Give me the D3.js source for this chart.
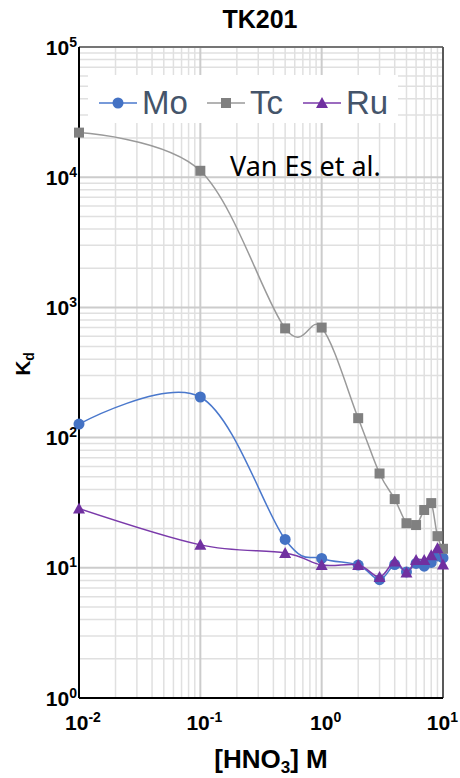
<!DOCTYPE html>
<html>
<head>
<meta charset="utf-8">
<script src="https://cdn.jsdelivr.net/npm/d3@7"></script>
<style>
  body { margin: 0; background: #fff; }
  svg { display: block; font-family: "Liberation Sans", Arial, sans-serif; }
</style>
</head>
<body>
<div id="chart"></div>
<script>
// HNO3 concentration (M)
const xVals = [0.01, 0.1, 0.5, 1, 2, 3, 4, 5, 6, 7, 8, 9, 10];
const moVals = [127, 205, 16.5, 11.8, 10.5, 8.1, 10.6, 9.3, 10.8, 10.3, 11.0, 12.3, 11.9];
const tcVals = [22000, 11200, 690, 700, 141, 53, 33.7, 22, 21.3, 27.8, 31.4, 17.5, 14];
const ruVals = [28.5, 15, 13, 10.5, 10.5, 8.5, 11.2, 9.2, 11.5, 11.5, 12.5, 14.1, 10.6];
const seriesNames = ["Mo", "Tc", "Ru"];
const xTickExp = [-2, -1, 0, 1];
const yTickExp = [0, 1, 2, 3, 4, 5];

const W = 460, H = 778;
const plotL = 79, plotR = 443, plotT = 47, plotB = 698;

const svg = d3.select("#chart")
  .append("svg")
  .attr("width", W)
  .attr("height", H);

const x = d3.scaleLog().domain([0.01, 10]).range([plotL, plotR]);
const y = d3.scaleLog().domain([1, 1e5]).range([plotB, plotT]);

// grid
const xMinor = [], yMinor = [];
for (let e = -2; e < 1; e++) for (let m = 2; m < 10; m++) xMinor.push(m * Math.pow(10, e));
for (let e = 0; e < 5; e++) for (let m = 2; m < 10; m++) yMinor.push(m * Math.pow(10, e));

const grid = svg.append("g");
grid.selectAll(".vx").data(xMinor).enter().append("line")
  .attr("x1", d => x(d)).attr("x2", d => x(d))
  .attr("y1", plotT).attr("y2", plotB)
  .attr("stroke", "#e0e0e0").attr("stroke-width", 1.5);
grid.selectAll(".hy").data(yMinor).enter().append("line")
  .attr("y1", d => y(d)).attr("y2", d => y(d))
  .attr("x1", plotL).attr("x2", plotR)
  .attr("stroke", "#e0e0e0").attr("stroke-width", 1.5);
grid.selectAll(".vmaj").data(xTickExp).enter().append("line")
  .attr("x1", d => x(Math.pow(10, d))).attr("x2", d => x(Math.pow(10, d)))
  .attr("y1", plotT).attr("y2", plotB)
  .attr("stroke", "#cccccc").attr("stroke-width", 2);
grid.selectAll(".hmaj").data(yTickExp).enter().append("line")
  .attr("y1", d => y(Math.pow(10, d))).attr("y2", d => y(Math.pow(10, d)))
  .attr("x1", plotL).attr("x2", plotR)
  .attr("stroke", "#cccccc").attr("stroke-width", 2);

// frame
svg.append("line").attr("x1", plotL).attr("x2", plotR).attr("y1", plotT).attr("y2", plotT)
  .attr("stroke", "#595959").attr("stroke-width", 1.5);
svg.append("line").attr("x1", plotR).attr("x2", plotR).attr("y1", plotT).attr("y2", plotB)
  .attr("stroke", "#595959").attr("stroke-width", 2);
svg.append("line").attr("x1", plotL).attr("x2", plotR).attr("y1", plotB).attr("y2", plotB)
  .attr("stroke", "#000").attr("stroke-width", 2);
svg.append("line").attr("x1", plotL).attr("x2", plotL).attr("y1", plotT).attr("y2", plotB)
  .attr("stroke", "#000").attr("stroke-width", 2);

// legend box
const legend = svg.append("g");
legend.append("rect").attr("x", 88).attr("y", 75).attr("width", 310).attr("height", 48).attr("fill", "#fff");

// series
const series = [
  { name: seriesNames[0], vals: moVals, color: "#4472c4", line: "#4a78cc", shape: "circle" },
  { name: seriesNames[1], vals: tcVals, color: "#808080", line: "#9a9a9a", shape: "square" },
  { name: seriesNames[2], vals: ruVals, color: "#7030a0", line: "#7a3aaa", shape: "triangle" }
];

const lineGen = d3.line()
  .x(d => x(d[0]))
  .y(d => y(d[1]))
  .curve(d3.curveCardinal.tension(0));

function marker(g, shape, color) {
  if (shape === "circle") {
    g.append("circle").attr("r", 5.5).attr("fill", color);
  } else if (shape === "square") {
    g.append("rect").attr("x", -5).attr("y", -5).attr("width", 10).attr("height", 10).attr("fill", color);
  } else {
    g.append("path").attr("d", "M0,-6L6,5L-6,5Z").attr("fill", color);
  }
}

series.forEach(s => {
  const pts = xVals.map((xv, i) => [xv, s.vals[i]]);
  svg.append("path")
    .datum(pts)
    .attr("d", lineGen)
    .attr("fill", "none")
    .attr("stroke", s.line)
    .attr("stroke-width", 1.5);
  pts.forEach(p => {
    const g = svg.append("g").attr("transform", `translate(${x(p[0])},${y(p[1])})`);
    marker(g, s.shape, s.color);
  });
});

// legend entries
const legendX = [99, 207, 303];
series.forEach((s, i) => {
  const lx = legendX[i];
  legend.append("line").attr("x1", lx).attr("x2", lx + 38).attr("y1", 103).attr("y2", 103)
    .attr("stroke", s.line).attr("stroke-width", 1.5);
  const g = legend.append("g").attr("transform", `translate(${lx + 19},103)`);
  marker(g, s.shape, s.color);
  legend.append("text").attr("x", lx + 43).attr("y", 114)
    .attr("font-size", 33).attr("fill", "#44546a").text(s.name);
});

svg.append("text").attr("x", 230).attr("y", 176)
  .attr("font-family", "'Noto Sans', 'Open Sans', sans-serif")
  .attr("font-size", 27).attr("fill", "#000").text("Van Es et al.");

// y tick labels
const yl = svg.append("g").attr("font-weight", "bold").attr("fill", "#000");
yTickExp.forEach(e => {
  const t = yl.append("text").attr("x", 77).attr("y", y(Math.pow(10, e)) + 7.5)
    .attr("text-anchor", "end").attr("font-size", 21);
  t.append("tspan").text("10");
  t.append("tspan").attr("font-size", 14).attr("dy", -8).text(e);
});

// x tick labels (last one kept inside the page)
xTickExp.forEach(e => {
  const last = e === xTickExp[xTickExp.length - 1];
  const t = yl.append("text")
    .attr("x", last ? W - 2 : x(Math.pow(10, e)) + 4).attr("y", 730)
    .attr("text-anchor", last ? "end" : "middle").attr("font-size", 21);
  t.append("tspan").text("10");
  t.append("tspan").attr("font-size", 14).attr("dy", -8).text(e);
});

// titles
svg.append("text").attr("x", 260).attr("y", 28).attr("text-anchor", "middle")
  .attr("font-weight", "bold").attr("font-size", 25).text("TK201");

const xt = svg.append("text").attr("x", 271).attr("y", 768).attr("text-anchor", "middle")
  .attr("font-weight", "bold").attr("font-size", 26);
xt.append("tspan").text("[HNO");
xt.append("tspan").attr("font-size", 17).attr("dy", 5).text("3");
xt.append("tspan").attr("dy", -5).text("] M");

const yt = svg.append("text").attr("transform", "translate(30,364) rotate(-90)")
  .attr("text-anchor", "middle").attr("font-weight", "bold").attr("font-size", 21);
yt.append("tspan").text("K");
yt.append("tspan").attr("font-size", 14).attr("dy", 4).text("d");
</script>
</body>
</html>
